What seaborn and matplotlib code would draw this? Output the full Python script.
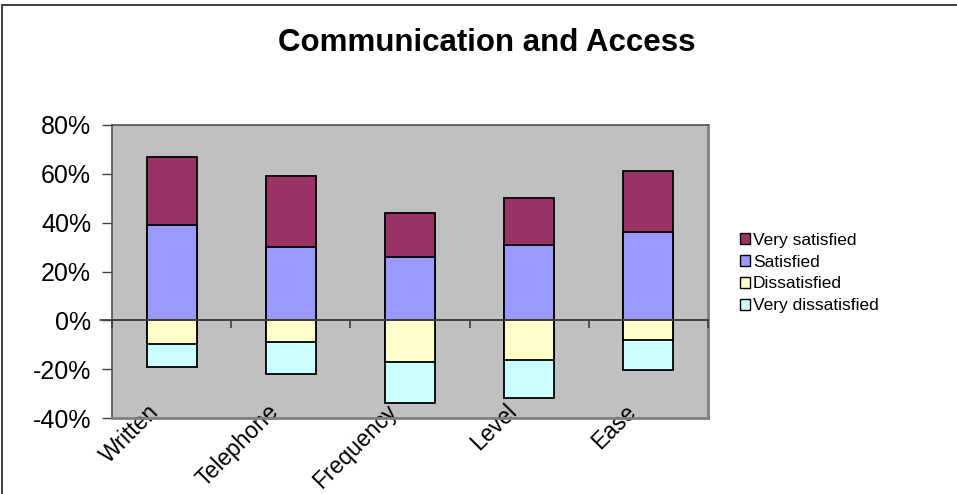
import matplotlib
matplotlib.use('Agg')
import matplotlib.pyplot as plt
import matplotlib.ticker as mticker
import matplotlib.transforms as mtransforms
from matplotlib.patches import Patch, Rectangle
import numpy as np
import pandas as pd
import seaborn as sns

categories = ['Written', 'Telephone', 'Frequency', 'Level', 'Ease']
very_satisfied = [28, 29, 18, 19, 25]
satisfied = [39, 30, 26, 31, 36]
dissatisfied = [-9.5, -9, -17, -16.3, -8]
very_dissatisfied = [-9.5, -13, -17, -15.5, -12.4]
y_ticks = [-40, -20, 0, 20, 40, 60, 80]

COLORS = {
    'Very satisfied': '#993366',
    'Satisfied': '#9999FF',
    'Dissatisfied': '#FFFFCC',
    'Very dissatisfied': '#CCFFFF',
}

sns.set_style('white')
plt.rcParams['font.family'] = ['Liberation Sans', 'DejaVu Sans']
plt.rcParams['text.color'] = 'black'

df = pd.DataFrame({
    'cat': categories,
    'vs': very_satisfied,
    'sat': satisfied,
    'dis': dissatisfied,
    'vd': very_dissatisfied,
})
df['pos_total'] = df['sat'] + df['vs']
df['neg_total'] = df['dis'] + df['vd']

fig = plt.figure(figsize=(9.57, 4.94), dpi=100)
ax = fig.add_axes([112 / 957, 1 - 418 / 494, (708 - 112) / 957, (418 - 125) / 494])
ax.set_facecolor('#C0C0C0')

bar_kw = dict(x='cat', order=categories, width=0.42, edgecolor='black',
              linewidth=1.3, ax=ax, saturation=1)
# stack by drawing cumulative totals first, then the inner segment on top
sns.barplot(data=df, y='pos_total', color=COLORS['Very satisfied'], **bar_kw)
sns.barplot(data=df, y='sat', color=COLORS['Satisfied'], **bar_kw)
sns.barplot(data=df, y='neg_total', color=COLORS['Very dissatisfied'], **bar_kw)
sns.barplot(data=df, y='dis', color=COLORS['Dissatisfied'], **bar_kw)

ax.set_ylim(-40, 80)
ax.set_xlim(-0.5, len(categories) - 0.5)
ax.yaxis.set_major_locator(mticker.FixedLocator(y_ticks))
ax.yaxis.set_major_formatter(mticker.FuncFormatter(lambda v, p: f'{v:.0f}%'))
ax.tick_params(axis='y', direction='out', length=7, width=1, color='#404040',
               labelsize=18, pad=8, left=True, labelcolor='black')
ax.tick_params(axis='x', length=0, labelsize=16.5, pad=0, labelcolor='black')
ax.set_xticks(range(len(categories)))
ax.set_xticklabels(categories, rotation=45, ha='right', va='center',
                   rotation_mode='anchor')
shift = mtransforms.ScaledTranslation(-16 / 100, 10 / 100, fig.dpi_scale_trans)
for lbl in ax.get_xticklabels():
    lbl.set_transform(lbl.get_transform() + shift)
ax.set_xlabel('')
ax.set_ylabel('')

for side in ['left', 'top']:
    ax.spines[side].set_color('#505050')
    ax.spines[side].set_linewidth(1.2)
for side in ['right', 'bottom']:
    ax.spines[side].set_color('#808080')
    ax.spines[side].set_linewidth(2)
    ax.spines[side].set_visible(True)

# zero line with category-boundary ticks
zero_frac = (0 - y_ticks[0]) / (y_ticks[-1] - y_ticks[0])
sec = ax.secondary_xaxis(zero_frac)
sec.spines['bottom'].set_color('#404040')
sec.spines['bottom'].set_linewidth(1.2)
sec.set_xticks(np.arange(len(categories) + 1) - 0.5)
sec.tick_params(axis='x', direction='out', length=6, width=1.2, color='#404040',
                labelbottom=False)
sec.set_zorder(3)
ax.axhline(0, color='#404040', linewidth=1.2, zorder=1.5, xmin=-0.02, clip_on=False)

handles = [Patch(facecolor=COLORS[k], edgecolor='black', linewidth=1, label=k)
           for k in COLORS]
fig.legend(handles=handles, loc='center left',
           bbox_to_anchor=(740 / 957, 1 - 273 / 494), frameon=False,
           fontsize=12.5, handlelength=0.55, handleheight=0.55,
           handletextpad=0.2, labelspacing=0.4, borderaxespad=0, borderpad=0)

fig.text(487 / 957, 1 - 43 / 494, 'Communication and Access', ha='center', va='center',
         fontsize=22.5, fontweight='bold', color='black')

fig.add_artist(Rectangle((2 / 957, -0.1), 1.2, 1.1 - 5 / 494, transform=fig.transFigure,
                         fill=False, edgecolor='#303030', linewidth=1.3))

fig.savefig('out.png', dpi=100)
